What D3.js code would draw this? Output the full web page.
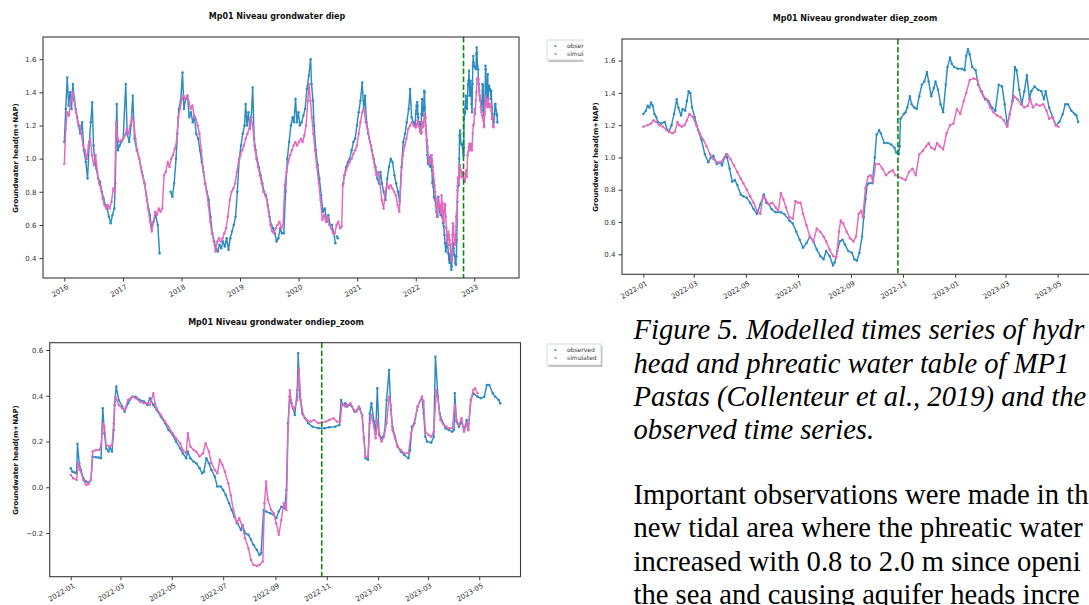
<!doctype html>
<html>
<head>
<meta charset="utf-8">
<title>Mp01 grondwater</title>
<script src="https://cdn.jsdelivr.net/npm/d3@7"></script>
<style>
  body { margin: 0; background: #fff; }
  svg { display: block; font-family: "DejaVu Sans", sans-serif; }
</style>
</head>
<body>
<svg width="1089" height="605"></svg>
<script>
// ---- data ----
// deep groundwater head (m+NAP), 2016-2021 part of the long plot
var diepObsEarly = [
  ["2016-01-01",1.10],["2016-01-10",1.30],["2016-01-19",1.49],["2016-01-28",1.32],["2016-02-06",1.40],["2016-02-15",1.30],
  ["2016-02-23",1.45],["2016-03-03",1.36],["2016-03-12",1.30],["2016-03-21",1.25],["2016-03-30",1.20],["2016-04-10",1.15],
  ["2016-04-21",1.22],["2016-05-02",1.05],["2016-05-14",0.98],["2016-05-25",0.88],["2016-06-05",1.10],["2016-06-14",1.22],
  ["2016-06-23",1.34],["2016-07-01",1.08],["2016-07-10",0.98],["2016-07-19",0.94],["2016-07-30",0.88],["2016-08-11",0.86],
  ["2016-08-22",0.80],["2016-09-02",0.76],["2016-09-13",0.72],["2016-09-24",0.70],["2016-10-05",0.65],["2016-10-16",0.61],
  ["2016-10-27",0.66],["2016-11-08",0.70],["2016-11-14",0.85],["2016-11-23",1.33],["2016-11-30",1.05],["2016-12-11",1.08],
  ["2016-12-22",1.10],["2017-01-02",1.12],["2017-01-18",1.45],["2017-01-27",1.15],["2017-02-09",1.10],["2017-02-20",1.20],
  ["2017-03-03",1.38],["2017-03-14",1.12],["2017-03-28",1.05],["2017-04-12",1.00],["2017-04-28",0.92],["2017-05-16",0.85],
  ["2017-05-31",0.75],["2017-06-18",0.66],["2017-06-29",0.58],["2017-07-10",0.62],["2017-07-24",0.66],["2017-08-06",0.60],
  ["2017-08-17",0.43],["2017-08-20",null],["2017-10-25",0.80],["2017-11-05",0.77],["2017-11-16",0.85],["2017-11-28",1.00],
  ["2017-12-06",1.15],["2017-12-15",1.30],["2017-12-27",1.35],["2018-01-07",1.52],["2018-01-16",1.30],["2018-01-27",1.36],
  ["2018-02-07",1.38],["2018-02-18",1.25],["2018-03-01",1.28],["2018-03-12",1.22],["2018-03-23",1.25],["2018-04-03",1.15],
  ["2018-04-15",1.12],["2018-04-26",1.05],["2018-05-07",0.98],["2018-05-18",0.92],["2018-05-29",0.85],["2018-06-09",0.80],
  ["2018-06-20",0.75],["2018-07-01",0.65],["2018-07-12",0.55],["2018-07-24",0.50],["2018-08-04",0.46],["2018-08-15",0.44],
  ["2018-08-26",0.48],["2018-09-06",0.46],["2018-09-17",0.50],["2018-09-28",0.47],["2018-10-10",0.52],["2018-10-21",0.45],
  ["2018-11-01",0.52],["2018-11-12",0.56],["2018-11-23",0.60],["2018-12-04",0.65],["2018-12-15",0.80],["2018-12-27",1.00],
  ["2019-01-07",1.08],["2019-01-18",1.15],["2019-01-29",1.20],["2019-02-05",1.33],["2019-02-13",1.20],["2019-02-22",1.28],
  ["2019-03-03",1.18],["2019-03-12",1.25],["2019-03-21",1.43],["2019-03-30",1.12],["2019-04-08",1.05],["2019-04-17",1.00],
  ["2019-04-28",0.95],["2019-05-09",0.90],["2019-05-20",0.85],["2019-05-31",0.80],["2019-06-11",0.78],["2019-06-23",0.72],
  ["2019-07-04",0.65],["2019-07-15",0.60],["2019-07-26",0.58],["2019-08-06",0.55],["2019-08-17",0.50],["2019-08-28",0.52],
  ["2019-09-08",0.58],["2019-09-19",0.55],["2019-10-01",0.55],["2019-10-12",0.80],["2019-10-23",1.00],["2019-11-03",1.10],
  ["2019-11-14",1.20],["2019-11-25",1.25],["2019-12-04",1.22],["2019-12-13",1.36],["2019-12-22",1.22],["2019-12-31",1.28],
  ["2020-01-09",1.20],["2020-01-20",1.22],["2020-01-31",1.26],["2020-02-11",1.30],["2020-02-22",1.42],["2020-03-05",1.50],
  ["2020-03-16",1.60],["2020-03-22",1.45],["2020-03-31",1.35],["2020-04-07",1.20],["2020-04-18",1.05],["2020-04-29",0.96],
  ["2020-05-10",0.88],["2020-05-21",0.78],["2020-06-01",0.68],["2020-06-13",0.70],["2020-06-24",0.62],["2020-07-05",0.66],
  ["2020-07-16",0.60],["2020-07-27",0.60],["2020-08-07",0.55],["2020-08-18",0.49],["2020-08-22",null],["2020-08-27",0.53],
  ["2020-09-02",0.52],["2020-09-05",null],["2020-10-06",0.85],["2020-10-13",0.90],["2020-10-24",0.95],["2020-11-04",0.98],
  ["2020-11-15",1.00],["2020-11-27",1.05],["2020-12-08",1.10],["2020-12-19",1.12],["2020-12-30",1.20],["2021-01-10",1.28],
  ["2021-01-21",1.35],["2021-02-01",1.46],["2021-02-10",1.30],["2021-02-19",1.38],["2021-02-28",1.22],["2021-03-11",1.15],
  ["2021-03-22",1.10],["2021-04-02",1.05],["2021-04-13",1.00],["2021-04-25",0.95],["2021-05-06",0.88],["2021-05-17",0.85],
  ["2021-05-26",0.92],["2021-06-04",0.85],["2021-06-15",0.80],["2021-06-26",0.75],["2021-07-07",0.88],["2021-07-18",0.95],
  ["2021-07-29",1.00],["2021-08-09",0.98],["2021-08-21",0.90],["2021-09-01",0.85],["2021-09-12",0.80],["2021-09-23",0.74],
  ["2021-10-04",0.95],["2021-10-15",1.10],["2021-10-26",1.15],["2021-11-06",1.22],["2021-11-18",1.30],["2021-11-27",1.42],
  ["2021-12-06",1.25],["2021-12-17",1.22],["2021-12-28",1.20]
];
var diepSimEarly = [
  ["2016-01-01",0.97],["2016-01-10",1.18],["2016-01-19",1.28],["2016-01-30",1.26],["2016-02-10",1.35],["2016-02-21",1.40],
  ["2016-03-03",1.35],["2016-03-14",1.28],["2016-03-25",1.22],["2016-04-05",1.20],["2016-04-16",1.15],["2016-04-27",1.08],
  ["2016-05-08",1.05],["2016-05-20",1.00],["2016-05-31",1.08],["2016-06-11",1.12],["2016-06-22",1.02],["2016-07-03",0.96],
  ["2016-07-14",1.02],["2016-07-25",0.92],["2016-08-05",0.85],["2016-08-16",0.82],["2016-08-27",0.76],["2016-09-07",0.72],
  ["2016-09-18",0.70],["2016-09-29",0.72],["2016-10-10",0.70],["2016-10-21",0.74],["2016-11-01",0.82],["2016-11-10",0.80],
  ["2016-11-19",1.22],["2016-11-28",1.12],["2016-12-09",1.10],["2016-12-20",1.11],["2017-01-02",1.12],["2017-01-13",1.14],
  ["2017-01-24",1.18],["2017-02-04",1.15],["2017-02-15",1.20],["2017-02-26",1.25],["2017-03-09",1.22],["2017-03-20",1.12],
  ["2017-03-31",1.05],["2017-04-12",1.00],["2017-04-23",0.95],["2017-05-04",0.90],["2017-05-15",0.85],["2017-05-26",0.78],
  ["2017-06-06",0.70],["2017-06-18",0.62],["2017-06-29",0.56],["2017-07-10",0.62],["2017-07-21",0.68],["2017-08-01",0.66],
  ["2017-08-12",0.70],["2017-08-23",0.68],["2017-09-03",0.70],["2017-09-14",0.90],["2017-09-25",0.92],["2017-10-07",0.98],
  ["2017-10-18",0.95],["2017-10-29",1.00],["2017-11-09",1.02],["2017-11-20",1.06],["2017-12-01",1.10],["2017-12-12",1.25],
  ["2017-12-23",1.30],["2018-01-03",1.36],["2018-01-14",1.38],["2018-01-25",1.36],["2018-02-05",1.38],["2018-02-16",1.34],
  ["2018-02-27",1.30],["2018-03-10",1.32],["2018-03-21",1.26],["2018-04-01",1.24],["2018-04-12",1.20],["2018-04-23",1.15],
  ["2018-05-04",1.05],["2018-05-15",0.95],["2018-05-27",0.85],["2018-06-07",0.80],["2018-06-18",0.72],["2018-06-29",0.62],
  ["2018-07-10",0.55],["2018-07-21",0.50],["2018-08-01",0.44],["2018-08-12",0.50],["2018-08-23",0.52],["2018-09-03",0.50],
  ["2018-09-14",0.52],["2018-09-25",0.55],["2018-10-06",0.58],["2018-10-17",0.65],["2018-10-29",0.75],["2018-11-09",0.80],
  ["2018-11-20",0.82],["2018-12-01",0.85],["2018-12-12",0.92],["2018-12-23",0.98],["2019-01-03",1.02],["2019-01-14",1.05],
  ["2019-01-25",1.08],["2019-02-05",1.12],["2019-02-16",1.15],["2019-02-27",1.18],["2019-03-10",1.25],["2019-03-21",1.20],
  ["2019-04-01",1.08],["2019-04-13",1.00],["2019-04-24",0.95],["2019-05-05",0.90],["2019-05-16",0.85],["2019-05-27",0.80],
  ["2019-06-07",0.78],["2019-06-18",0.75],["2019-06-29",0.68],["2019-07-10",0.60],["2019-07-21",0.56],["2019-08-01",0.55],
  ["2019-08-12",0.58],["2019-08-23",0.60],["2019-09-04",0.62],["2019-09-15",0.58],["2019-09-26",0.60],["2019-10-07",0.84],
  ["2019-10-18",0.92],["2019-10-29",0.98],["2019-11-09",1.02],["2019-11-20",1.05],["2019-12-01",1.08],["2019-12-12",1.10],
  ["2019-12-23",1.08],["2020-01-04",1.10],["2020-01-15",1.12],["2020-01-26",1.10],["2020-02-06",1.14],["2020-02-17",1.20],
  ["2020-02-28",1.35],["2020-03-06",1.45],["2020-03-15",1.35],["2020-03-24",1.25],["2020-04-02",1.15],["2020-04-13",1.05],
  ["2020-04-24",0.95],["2020-05-06",0.85],["2020-05-17",0.75],["2020-05-28",0.63],["2020-06-08",0.66],["2020-06-19",0.62],
  ["2020-06-30",0.65],["2020-07-11",0.60],["2020-07-22",0.58],["2020-08-03",0.55],["2020-08-14",0.55],["2020-08-25",0.60],
  ["2020-09-05",0.62],["2020-09-16",0.58],["2020-09-26",0.59],["2020-10-03",0.84],["2020-10-13",0.90],["2020-10-24",0.93],
  ["2020-11-04",0.96],["2020-11-15",0.98],["2020-11-27",1.00],["2020-12-08",1.03],["2020-12-19",1.05],["2020-12-30",1.08],
  ["2021-01-10",1.15],["2021-01-21",1.22],["2021-02-01",1.28],["2021-02-12",1.30],["2021-02-23",1.22],["2021-03-06",1.18],
  ["2021-03-17",1.12],["2021-03-28",1.08],["2021-04-08",1.02],["2021-04-20",0.95],["2021-05-01",0.90],["2021-05-12",0.92],
  ["2021-05-23",0.85],["2021-06-03",0.75],["2021-06-14",0.70],["2021-06-25",0.80],["2021-07-06",0.85],["2021-07-17",0.82],
  ["2021-07-28",0.84],["2021-08-08",0.82],["2021-08-19",0.80],["2021-08-30",0.78],["2021-09-10",0.72],["2021-09-21",0.68],
  ["2021-10-02",0.90],["2021-10-13",1.02],["2021-10-24",1.08],["2021-11-04",1.12],["2021-11-15",1.18],["2021-11-27",1.20],
  ["2021-12-08",1.22],["2021-12-19",1.20],["2021-12-30",1.19]
];
// deep groundwater, 2022 - 2023 (zoom plot, also the tail of the long plot)
var diepObsZoom = [
  ["2022-01-01",1.27],["2022-01-04",1.29],["2022-01-06",1.32],["2022-01-08",1.31],["2022-01-10",1.34],["2022-01-12",1.32],
  ["2022-01-14",1.27],["2022-01-16",1.25],["2022-01-18",1.22],["2022-01-22",1.21],["2022-01-26",1.22],["2022-01-29",1.17],
  ["2022-01-31",1.16],["2022-02-03",1.20],["2022-02-06",1.27],["2022-02-09",1.36],["2022-02-11",1.31],["2022-02-14",1.26],
  ["2022-02-16",1.30],["2022-02-19",1.29],["2022-02-21",1.35],["2022-02-23",1.41],["2022-02-25",1.40],["2022-02-27",1.31],
  ["2022-03-02",1.25],["2022-03-06",1.17],["2022-03-10",1.11],["2022-03-14",1.02],["2022-03-18",0.97],["2022-03-21",1.00],
  ["2022-03-24",1.01],["2022-03-28",0.96],["2022-04-01",0.97],["2022-04-03",0.95],["2022-04-06",1.00],["2022-04-08",1.02],
  ["2022-04-09",1.00],["2022-04-12",0.93],["2022-04-15",0.85],["2022-04-18",0.86],["2022-04-21",0.83],["2022-04-25",0.77],
  ["2022-04-28",0.76],["2022-05-02",0.75],["2022-05-06",0.72],["2022-05-10",0.68],["2022-05-14",0.65],["2022-05-18",0.71],
  ["2022-05-22",0.77],["2022-05-25",0.72],["2022-05-28",0.71],["2022-05-31",0.68],["2022-06-05",0.66],["2022-06-11",0.66],
  ["2022-06-15",0.65],["2022-06-21",0.61],["2022-06-25",0.59],["2022-06-29",0.54],["2022-07-03",0.49],["2022-07-07",0.44],
  ["2022-07-11",0.47],["2022-07-15",0.51],["2022-07-19",0.48],["2022-07-23",0.43],["2022-07-27",0.39],["2022-07-31",0.37],
  ["2022-08-03",0.42],["2022-08-07",0.39],["2022-08-11",0.33],["2022-08-13",0.35],["2022-08-16",0.42],["2022-08-19",0.48],
  ["2022-08-22",0.49],["2022-08-25",0.46],["2022-08-29",0.42],["2022-09-02",0.41],["2022-09-05",0.37],["2022-09-08",0.36],
  ["2022-09-11",0.41],["2022-09-14",0.51],["2022-09-16",0.63],["2022-09-18",0.74],["2022-09-20",0.83],["2022-09-22",0.84],
  ["2022-09-26",0.84],["2022-09-29",1.00],["2022-10-01",1.14],["2022-10-04",1.17],["2022-10-06",1.15],["2022-10-10",1.09],
  ["2022-10-14",1.09],["2022-10-18",1.08],["2022-10-22",1.06],["2022-10-24",1.03],["2022-10-27",1.02],["2022-10-28",1.07],
  ["2022-10-29",1.24],["2022-11-02",1.27],["2022-11-04",1.28],["2022-11-06",1.31],["2022-11-09",1.38],["2022-11-11",1.33],
  ["2022-11-14",1.31],["2022-11-17",1.30],["2022-11-20",1.38],["2022-11-23",1.45],["2022-11-26",1.47],["2022-11-29",1.53],
  ["2022-12-01",1.47],["2022-12-04",1.38],["2022-12-07",1.43],["2022-12-09",1.47],["2022-12-12",1.42],["2022-12-15",1.33],
  ["2022-12-18",1.28],["2022-12-21",1.45],["2022-12-23",1.56],["2022-12-26",1.62],["2022-12-28",1.58],["2022-12-31",1.56],
  ["2023-01-04",1.55],["2023-01-09",1.55],["2023-01-12",1.54],["2023-01-14",1.63],["2023-01-16",1.67],["2023-01-18",1.64],
  ["2023-01-21",1.56],["2023-01-25",1.54],["2023-01-28",1.45],["2023-02-01",1.41],["2023-02-05",1.36],["2023-02-09",1.35],
  ["2023-02-13",1.31],["2023-02-17",1.29],["2023-02-21",1.45],["2023-02-25",1.44],["2023-02-28",1.33],["2023-03-03",1.20],
  ["2023-03-06",1.27],["2023-03-09",1.35],["2023-03-12",1.56],["2023-03-14",1.54],["2023-03-17",1.42],["2023-03-20",1.33],
  ["2023-03-23",1.41],["2023-03-26",1.51],["2023-03-29",1.36],["2023-03-31",1.41],["2023-04-04",1.44],["2023-04-08",1.42],
  ["2023-04-12",1.41],["2023-04-15",1.36],["2023-04-17",1.41],["2023-04-21",1.31],["2023-04-25",1.25],["2023-04-29",1.20],
  ["2023-05-03",1.22],["2023-05-07",1.27],["2023-05-10",1.33],["2023-05-13",1.33],["2023-05-17",1.29],["2023-05-21",1.27],
  ["2023-05-23",1.26],["2023-05-25",1.22]
];
var diepSimZoom = [
  ["2022-01-01",1.19],["2022-01-06",1.20],["2022-01-10",1.21],["2022-01-13",1.23],["2022-01-16",1.22],["2022-01-20",1.20],
  ["2022-01-24",1.19],["2022-01-28",1.17],["2022-01-31",1.16],["2022-02-04",1.15],["2022-02-07",1.16],["2022-02-10",1.22],
  ["2022-02-12",1.20],["2022-02-15",1.19],["2022-02-18",1.20],["2022-02-21",1.23],["2022-02-24",1.27],["2022-02-28",1.25],
  ["2022-03-04",1.20],["2022-03-08",1.15],["2022-03-12",1.11],["2022-03-16",1.07],["2022-03-20",1.02],["2022-03-24",0.99],
  ["2022-03-28",0.97],["2022-04-01",0.97],["2022-04-05",0.99],["2022-04-09",1.02],["2022-04-13",0.99],["2022-04-17",0.95],
  ["2022-04-21",0.91],["2022-04-25",0.87],["2022-04-28",0.84],["2022-05-02",0.80],["2022-05-06",0.76],["2022-05-10",0.72],
  ["2022-05-14",0.67],["2022-05-18",0.65],["2022-05-21",0.76],["2022-05-24",0.74],["2022-05-28",0.71],["2022-06-01",0.72],
  ["2022-06-05",0.69],["2022-06-08",0.67],["2022-06-11",0.78],["2022-06-14",0.74],["2022-06-17",0.69],["2022-06-21",0.63],
  ["2022-06-25",0.62],["2022-06-28",0.73],["2022-07-01",0.72],["2022-07-04",0.72],["2022-07-07",0.65],["2022-07-11",0.58],
  ["2022-07-15",0.51],["2022-07-19",0.48],["2022-07-23",0.56],["2022-07-27",0.54],["2022-07-31",0.51],["2022-08-03",0.48],
  ["2022-08-07",0.43],["2022-08-11",0.39],["2022-08-15",0.38],["2022-08-18",0.54],["2022-08-20",0.61],["2022-08-23",0.59],
  ["2022-08-27",0.54],["2022-08-31",0.50],["2022-09-04",0.48],["2022-09-07",0.51],["2022-09-10",0.65],["2022-09-13",0.67],
  ["2022-09-15",0.63],["2022-09-18",0.81],["2022-09-21",0.88],["2022-09-24",0.89],["2022-09-27",0.85],["2022-09-30",0.96],
  ["2022-10-04",0.96],["2022-10-08",0.93],["2022-10-12",0.89],["2022-10-16",0.91],["2022-10-20",0.92],["2022-10-23",0.89],
  ["2022-10-27",0.88],["2022-10-31",0.87],["2022-11-04",0.86],["2022-11-08",0.91],["2022-11-12",0.93],["2022-11-16",0.89],
  ["2022-11-20",1.02],["2022-11-24",1.04],["2022-11-28",1.07],["2022-12-01",1.09],["2022-12-04",1.06],["2022-12-08",1.05],
  ["2022-12-11",1.09],["2022-12-14",1.07],["2022-12-18",1.05],["2022-12-22",1.15],["2022-12-26",1.20],["2022-12-30",1.21],
  ["2023-01-03",1.30],["2023-01-07",1.27],["2023-01-11",1.35],["2023-01-14",1.40],["2023-01-18",1.48],["2023-01-23",1.49],
  ["2023-01-27",1.48],["2023-01-31",1.41],["2023-02-03",1.38],["2023-02-07",1.36],["2023-02-11",1.31],["2023-02-15",1.28],
  ["2023-02-19",1.26],["2023-02-23",1.25],["2023-02-27",1.23],["2023-03-03",1.19],["2023-03-06",1.27],["2023-03-11",1.38],
  ["2023-03-15",1.36],["2023-03-19",1.33],["2023-03-23",1.31],["2023-03-27",1.32],["2023-03-30",1.36],["2023-04-02",1.31],
  ["2023-04-06",1.33],["2023-04-10",1.32],["2023-04-14",1.33],["2023-04-18",1.29],["2023-04-21",1.24],["2023-04-25",1.25],
  ["2023-04-29",1.20],["2023-05-02",1.19]
];
// shallow (phreatic) groundwater, 2022 - 2023
var ondiepObs = [
  ["2022-01-01",0.083],["2022-01-03",0.068],["2022-01-06",0.064],["2022-01-08",0.061],["2022-01-09",0.19],["2022-01-11",0.105],
  ["2022-01-13",0.076],["2022-01-16",0.039],["2022-01-19",0.025],["2022-01-22",0.02],["2022-01-25",0.032],["2022-01-27",0.134],
  ["2022-01-31",0.131],["2022-02-03",0.13],["2022-02-06",0.127],["2022-02-08",0.345],["2022-02-10",0.236],["2022-02-12",0.17],
  ["2022-02-15",0.156],["2022-02-16",0.178],["2022-02-19",0.156],["2022-02-21",0.25],["2022-02-22",0.36],["2022-02-24",0.44],
  ["2022-02-27",0.382],["2022-03-03",0.353],["2022-03-06",0.33],["2022-03-10",0.367],["2022-03-15",0.396],["2022-03-19",0.396],
  ["2022-03-24",0.382],["2022-03-29",0.375],["2022-04-02",0.36],["2022-04-05",0.389],["2022-04-09",0.36],["2022-04-13",0.338],
  ["2022-04-18",0.309],["2022-04-23",0.28],["2022-04-27",0.25],["2022-05-02",0.229],["2022-05-06",0.20],["2022-05-11",0.17],
  ["2022-05-14",0.149],["2022-05-18",0.127],["2022-05-20",0.156],["2022-05-23",0.127],["2022-05-27",0.112],["2022-05-30",0.105],
  ["2022-06-03",0.083],["2022-06-06",0.061],["2022-06-08",0.068],["2022-06-11",0.127],["2022-06-14",0.105],["2022-06-17",0.076],
  ["2022-06-21",0.047],["2022-06-24",0.003],["2022-06-28",0.003],["2022-07-01",-0.012],["2022-07-04",-0.034],["2022-07-08",-0.07],
  ["2022-07-11",-0.099],["2022-07-14",-0.128],["2022-07-18",-0.157],["2022-07-22",-0.187],["2022-07-24",-0.165],["2022-07-27",-0.201],
  ["2022-07-31",-0.208],["2022-08-03",-0.23],["2022-08-06",-0.252],["2022-08-10",-0.274],["2022-08-13",-0.296],["2022-08-15",-0.289],
  ["2022-08-18",-0.099],["2022-08-21",-0.106],["2022-08-26",-0.114],["2022-08-30",-0.121],["2022-09-02",-0.136],["2022-09-05",-0.106],
  ["2022-09-08",-0.085],["2022-09-12",-0.092],["2022-09-14",-0.012],["2022-09-16",0.28],["2022-09-18",0.396],["2022-09-20",0.367],
  ["2022-09-22",0.345],["2022-09-24",0.316],["2022-09-27",0.425],["2022-09-28",0.586],["2022-09-30",0.396],["2022-10-03",0.323],
  ["2022-10-06",0.302],["2022-10-10",0.28],["2022-10-15",0.265],["2022-10-22",0.258],["2022-10-29",0.258],["2022-11-04",0.262],
  ["2022-11-11",0.265],["2022-11-16",0.272],["2022-11-18",0.382],["2022-11-20",0.36],["2022-11-23",0.367],["2022-11-25",0.353],
  ["2022-11-28",0.36],["2022-12-01",0.353],["2022-12-04",0.33],["2022-12-07",0.338],["2022-12-10",0.345],["2022-12-13",0.316],
  ["2022-12-15",0.214],["2022-12-17",0.127],["2022-12-20",0.12],["2022-12-22",0.323],["2022-12-24",0.367],["2022-12-27",0.287],
  ["2022-12-29",0.236],["2022-12-31",0.433],["2023-01-02",0.236],["2023-01-05",0.214],["2023-01-07",0.221],["2023-01-09",0.25],
  ["2023-01-11",0.382],["2023-01-14",0.513],["2023-01-16",0.338],["2023-01-18",0.265],["2023-01-21",0.221],["2023-01-24",0.178],
  ["2023-01-28",0.156],["2023-02-01",0.141],["2023-02-06",0.127],["2023-02-08",0.163],["2023-02-10",0.265],["2023-02-13",0.28],
  ["2023-02-17",0.353],["2023-02-22",0.396],["2023-02-24",0.323],["2023-02-26",0.221],["2023-02-28",0.20],["2023-03-05",0.195],
  ["2023-03-08",0.221],["2023-03-10",0.571],["2023-03-13",0.396],["2023-03-15",0.323],["2023-03-19",0.28],["2023-03-22",0.258],
  ["2023-03-26",0.25],["2023-03-30",0.243],["2023-04-01",0.25],["2023-04-02",0.411],["2023-04-04",0.287],["2023-04-07",0.265],
  ["2023-04-10",0.287],["2023-04-13",0.25],["2023-04-16",0.294],["2023-04-18",0.25],["2023-04-21",0.382],["2023-04-24",0.411],
  ["2023-04-29",0.396],["2023-05-03",0.389],["2023-05-07",0.396],["2023-05-10",0.447],["2023-05-13",0.447],["2023-05-17",0.411],
  ["2023-05-20",0.396],["2023-05-24",0.382],["2023-05-26",0.367]
];
var ondiepSim = [
  ["2022-01-01",0.054],["2022-01-04",0.039],["2022-01-08",0.032],["2022-01-10",0.105],["2022-01-12",0.076],["2022-01-16",0.032],
  ["2022-01-19",0.01],["2022-01-22",0.013],["2022-01-25",0.032],["2022-01-27",0.156],["2022-01-31",0.163],["2022-02-04",0.163],
  ["2022-02-06",0.185],["2022-02-08",0.28],["2022-02-10",0.265],["2022-02-12",0.185],["2022-02-16",0.178],["2022-02-19",0.185],
  ["2022-02-21",0.28],["2022-02-23",0.396],["2022-02-27",0.36],["2022-03-03",0.345],["2022-03-06",0.338],["2022-03-10",0.382],
  ["2022-03-15",0.396],["2022-03-19",0.389],["2022-03-24",0.375],["2022-03-29",0.367],["2022-04-02",0.367],["2022-04-05",0.36],
  ["2022-04-09",0.411],["2022-04-11",0.367],["2022-04-13",0.345],["2022-04-18",0.316],["2022-04-23",0.287],["2022-04-27",0.265],
  ["2022-05-02",0.236],["2022-05-06",0.214],["2022-05-11",0.192],["2022-05-14",0.163],["2022-05-18",0.149],["2022-05-20",0.236],
  ["2022-05-23",0.178],["2022-05-27",0.163],["2022-05-30",0.156],["2022-06-03",0.134],["2022-06-07",0.149],["2022-06-10",0.192],
  ["2022-06-14",0.156],["2022-06-17",0.105],["2022-06-21",0.076],["2022-06-24",0.061],["2022-06-27",0.12],["2022-06-30",0.098],
  ["2022-07-03",0.068],["2022-07-07",0.017],["2022-07-10",-0.034],["2022-07-13",-0.099],["2022-07-17",-0.157],["2022-07-20",-0.136],
  ["2022-07-24",-0.172],["2022-07-27",-0.223],["2022-07-31",-0.267],["2022-08-03",-0.318],["2022-08-06",-0.34],["2022-08-10",-0.344],
  ["2022-08-13",-0.34],["2022-08-17",-0.325],["2022-08-19",-0.07],["2022-08-21",0.025],["2022-08-23",-0.055],["2022-08-27",-0.099],
  ["2022-08-30",-0.114],["2022-09-02",-0.157],["2022-09-05",-0.208],["2022-09-08",-0.143],["2022-09-11",-0.07],["2022-09-14",-0.099],
  ["2022-09-16",0.25],["2022-09-18",0.425],["2022-09-21",0.353],["2022-09-23",0.338],["2022-09-27",0.382],["2022-09-29",0.52],
  ["2022-10-01",0.382],["2022-10-04",0.316],["2022-10-08",0.294],["2022-10-13",0.287],["2022-10-17",0.294],["2022-10-22",0.28],
  ["2022-10-26",0.283],["2022-10-31",0.287],["2022-11-04",0.294],["2022-11-09",0.302],["2022-11-13",0.287],["2022-11-17",0.287],
  ["2022-11-19",0.367],["2022-11-23",0.353],["2022-11-26",0.36],["2022-11-29",0.367],["2022-12-03",0.338],["2022-12-06",0.33],
  ["2022-12-09",0.353],["2022-12-13",0.309],["2022-12-15",0.221],["2022-12-17",0.134],["2022-12-20",0.134],["2022-12-22",0.28],
  ["2022-12-24",0.316],["2022-12-27",0.265],["2022-12-29",0.214],["2022-12-31",0.294],["2023-01-02",0.229],["2023-01-05",0.20],
  ["2023-01-08",0.221],["2023-01-11",0.28],["2023-01-14",0.396],["2023-01-16",0.36],["2023-01-18",0.25],["2023-01-21",0.214],
  ["2023-01-24",0.178],["2023-01-28",0.163],["2023-02-01",0.149],["2023-02-06",0.149],["2023-02-09",0.236],["2023-02-12",0.272],
  ["2023-02-17",0.353],["2023-02-22",0.396],["2023-02-24",0.375],["2023-02-26",0.243],["2023-03-02",0.229],["2023-03-05",0.221],
  ["2023-03-08",0.243],["2023-03-11",0.425],["2023-03-13",0.382],["2023-03-16",0.294],["2023-03-20",0.272],["2023-03-23",0.265],
  ["2023-03-26",0.258],["2023-03-30",0.258],["2023-04-02",0.36],["2023-04-04",0.294],["2023-04-07",0.272],["2023-04-10",0.302],
  ["2023-04-13",0.243],["2023-04-16",0.28],["2023-04-18",0.25],["2023-04-21",0.382],["2023-04-24",0.425],["2023-04-26",0.433],
  ["2023-04-29",0.411]
];
var openingDate = "2022-10-26";   // green dashed marker
var yearTicks = ["2016-01-01","2017-01-01","2018-01-01","2019-01-01","2020-01-01","2021-01-01","2022-01-01","2023-01-01"];
var monthTicks = ["2022-01-01","2022-03-01","2022-05-01","2022-07-01","2022-09-01","2022-11-01","2023-01-01","2023-03-01","2023-05-01"];
var diepYTicks = [0.4, 0.6, 0.8, 1.0, 1.2, 1.4, 1.6];
var ondiepYTicks = [-0.2, 0.0, 0.2, 0.4, 0.6];
var legendLabels = ["observed", "simulated"];
// the report text, as far as it is visible at the right edge of the page
var captionLines = [
  "Figure 5. Modelled times series of hydr",
  "head and phreatic water table of MP1",
  "Pastas (Collenteur et al., 2019) and the",
  "observed time series."
];
var bodyLines = [
  "Important observations were made in th",
  "new tidal area where the phreatic water",
  "increased with 0.8 to 2.0 m since openi",
  "the sea and causing aquifer heads incre"
];

var obsColor = "#2b8cc2";
var simColor = "#e369bd";
var parse = d3.utcParse("%Y-%m-%d");
var svg = d3.select("svg");
svg.append("rect").attr("width", 1089).attr("height", 605).attr("fill", "#fff");

function drawLegend(g, x0, y0, w, h) {
  g.append("rect").attr("x", x0 + 1.5).attr("y", y0 + 2).attr("width", w).attr("height", h)
    .attr("fill", "#9a9a9a").attr("opacity", 0.6);
  g.append("rect").attr("x", x0).attr("y", y0).attr("width", w).attr("height", h)
    .attr("fill", "#fff").attr("stroke", "#d0d0d0").attr("stroke-width", 0.8);
  legendLabels.forEach(function(lab, i) {
    var yy = y0 + 6 + i * 8;
    g.append("circle").attr("cx", x0 + 8.5).attr("cy", yy).attr("r", 1.1)
      .attr("fill", i === 0 ? obsColor : simColor);
    g.append("text").attr("x", x0 + 20).attr("y", yy + 2).attr("font-size", 6)
      .attr("fill", "#333").text(lab);
  });
}

function drawPanel(cfg) {
  var g = svg.append("g");
  var x = d3.scaleUtc().domain(cfg.xDomain.map(parse)).range([cfg.left, cfg.right]);
  var y = d3.scaleLinear().domain(cfg.yDomain).range([cfg.bottom, cfg.top]);

  g.append("clipPath").attr("id", "clip" + cfg.id).append("rect")
    .attr("x", cfg.left).attr("y", cfg.top)
    .attr("width", cfg.right - cfg.left).attr("height", cfg.bottom - cfg.top);
  var plot = g.append("g").attr("clip-path", "url(#clip" + cfg.id + ")");

  cfg.series.forEach(function(s) {
    var pts = s.data.map(function(d) { return { t: parse(d[0]), v: d[1] }; });
    var line = d3.line()
      .defined(function(d) { return d.v !== null; })
      .x(function(d) { return x(d.t); })
      .y(function(d) { return y(d.v); });
    plot.append("path").attr("d", line(pts)).attr("fill", "none")
      .attr("stroke", s.color).attr("stroke-width", 1.45).attr("stroke-linejoin", "round");
    plot.selectAll(null).data(pts.filter(function(d) { return d.v !== null; }))
      .enter().append("circle")
      .attr("cx", function(d) { return x(d.t); })
      .attr("cy", function(d) { return y(d.v); })
      .attr("r", 1.25).attr("fill", s.color);
  });

  // dashed vertical marker
  var xm = x(parse(openingDate));
  plot.append("line").attr("x1", xm).attr("x2", xm).attr("y1", cfg.top).attr("y2", cfg.bottom)
    .attr("stroke", "#0a8a0a").attr("stroke-width", 1.6).attr("stroke-dasharray", "5.5,2.4");

  // frame
  g.append("rect").attr("x", cfg.left).attr("y", cfg.top)
    .attr("width", cfg.right - cfg.left).attr("height", cfg.bottom - cfg.top)
    .attr("fill", "none").attr("stroke", "#3a3a3a").attr("stroke-width", 1.1);

  var xAxis = d3.axisBottom(x).tickValues(cfg.xTicks.map(parse))
    .tickFormat(d3.utcFormat(cfg.xFormat)).tickSize(3.5).tickPadding(0);
  var gx = g.append("g").attr("transform", "translate(0," + cfg.bottom + ")").call(xAxis);
  gx.select(".domain").remove();
  gx.selectAll("line").attr("stroke", "#3a3a3a");
  gx.selectAll("text").attr("font-size", 7).attr("fill", "#333")
    .attr("font-family", "DejaVu Sans")
    .attr("text-anchor", "end").attr("x", 0).attr("y", 0).attr("dy", "0.72em")
    .attr("transform", "translate(1.5,6) rotate(-30)");

  var yAxis = d3.axisLeft(y).tickValues(cfg.yTicks)
    .tickFormat(d3.format(".1f")).tickSize(3.5).tickPadding(3);
  var gy = g.append("g").attr("transform", "translate(" + cfg.left + ",0)").call(yAxis);
  gy.select(".domain").remove();
  gy.selectAll("line").attr("stroke", "#3a3a3a");
  gy.selectAll("text").attr("font-size", 7).attr("fill", "#333").attr("font-family", "DejaVu Sans");

  g.append("text").attr("x", cfg.titleX).attr("y", cfg.titleY).attr("text-anchor", "middle")
    .attr("font-size", 8).attr("font-weight", "bold").attr("fill", "#111").text(cfg.title);
  g.append("text").attr("transform", "translate(" + cfg.labelX + "," + cfg.labelY + ") rotate(-90)")
    .attr("text-anchor", "middle").attr("font-size", 7).attr("font-weight", "bold")
    .attr("fill", "#111").text("Groundwater head(m+NAP)");
  return g;
}

// long plot of the deep head
var p1 = drawPanel({
  id: 1, left: 43, right: 519, top: 37, bottom: 278,
  xDomain: ["2015-08-21", "2023-10-07"], yDomain: [0.28, 1.734],
  xTicks: yearTicks, xFormat: "%Y", yTicks: diepYTicks,
  series: [{ data: diepObsEarly.concat(diepObsZoom), color: obsColor },
           { data: diepSimEarly.concat(diepSimZoom), color: simColor }],
  title: "Mp01 Niveau grondwater diep", titleX: 277, titleY: 19,
  labelX: 17.5, labelY: 158
});
drawLegend(p1, 547, 40, 60, 20);

// zoom of the deep head (its picture sits on top of the first legend)
svg.append("rect").attr("x", 583.5).attr("y", 0).attr("width", 506).attr("height", 306).attr("fill", "#fff");
drawPanel({
  id: 2, left: 622, right: 1099.5, top: 39, bottom: 274.3,
  xDomain: ["2021-12-07", "2023-06-19"], yDomain: [0.276, 1.734],
  xTicks: monthTicks, xFormat: "%Y-%m", yTicks: diepYTicks,
  series: [{ data: diepObsZoom, color: obsColor }, { data: diepSimZoom, color: simColor }],
  title: "Mp01 Niveau grondwater diep_zoom", titleX: 855, titleY: 21,
  labelX: 597.5, labelY: 157
});

// zoom of the shallow head
var p3 = drawPanel({
  id: 3, left: 49.7, right: 520.5, top: 342.7, bottom: 576.7,
  xDomain: ["2021-12-07", "2023-06-19"], yDomain: [-0.391, 0.632],
  xTicks: monthTicks, xFormat: "%Y-%m", yTicks: ondiepYTicks,
  series: [{ data: ondiepObs, color: obsColor }, { data: ondiepSim, color: simColor }],
  title: "Mp01 Niveau grondwater ondiep_zoom", titleX: 276, titleY: 325,
  labelX: 17.5, labelY: 460
});
drawLegend(p3, 547, 344, 54, 21);

// report text
var txt = svg.append("g").attr("font-family", "'Liberation Serif', 'Times New Roman', serif")
  .attr("font-size", 28.6).attr("fill", "#000");
captionLines.forEach(function(s, i) {
  txt.append("text").attr("x", 633.5).attr("y", 339.3 + i * 33.3).attr("font-style", "italic").text(s);
});
bodyLines.forEach(function(s, i) {
  txt.append("text").attr("x", 633.5).attr("y", 504 + i * 33.3).text(s);
});
</script>
</body>
</html>
